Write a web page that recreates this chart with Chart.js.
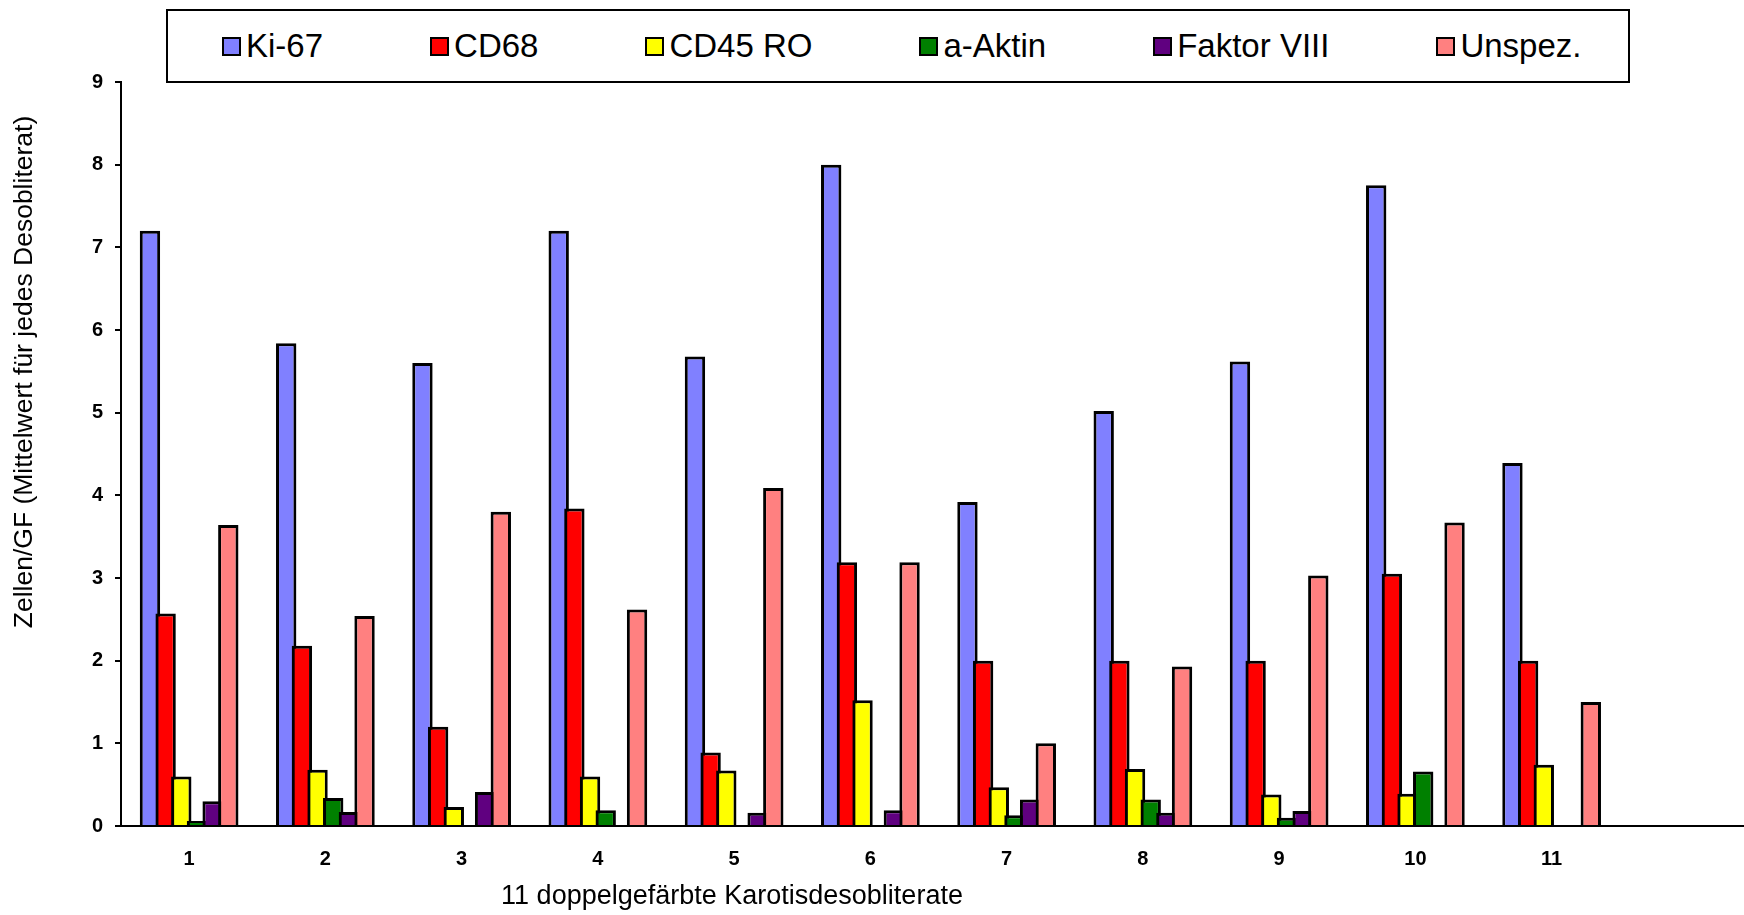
<!DOCTYPE html>
<html>
<head>
<meta charset="utf-8">
<script src="https://cdn.jsdelivr.net/npm/chart.js@4"></script>
<style>
    body { margin: 0; overflow: hidden; background: #fff; }
    #wrap { position: relative; width: 1744px; height: 915px; overflow: hidden; }
    #legend {
        position: absolute; left: 166px; top: 9px; width: 1464px; height: 74px;
        box-sizing: border-box; border: 2px solid #000; background: #fff;
        display: flex; align-items: center; padding-left: 54px;
        font-family: "Liberation Sans", Arial, sans-serif; font-size: 33px; color: #000;
    }
    .item { display: flex; align-items: center; margin-right: 107px; }
    .item:last-child { margin-right: 0; }
    .swatch { width: 19px; height: 19px; box-sizing: border-box; border: 2px solid #000; margin-right: 5px; }
</style>
</head>
<body>
<div id="wrap">
    <!-- axis runs past the right edge in the original, so the canvas is a bit wider than the page -->
    <canvas id="chart" width="1756" height="915"></canvas>
    <div id="legend"></div>
</div>
<script>
const categories = ['1', '2', '3', '4', '5', '6', '7', '8', '9', '10', '11'];
const seriesNames = ['Ki-67', 'CD68', 'CD45 RO', 'a-Aktin', 'Faktor VIII', 'Unspez.'];
const seriesColors = ['#8080FF', '#FF0000', '#FFFF00', '#008000', '#600080', '#FF8080'];

const ki67 = [7.2, 5.84, 5.6, 7.2, 5.68, 8.0, 3.92, 5.02, 5.62, 7.75, 4.39];
const cd68 = [2.57, 2.18, 1.2, 3.84, 0.89, 3.19, 2.0, 2.0, 2.0, 3.05, 2.0];
const cd45ro = [0.6, 0.68, 0.23, 0.6, 0.67, 1.52, 0.47, 0.69, 0.38, 0.39, 0.74];
const aAktin = [0.06, 0.34, 0, 0.19, 0, 0, 0.13, 0.32, 0.1, 0.66, 0];
const faktorVIII = [0.3, 0.17, 0.41, 0, 0.16, 0.19, 0.32, 0.16, 0.18, 0, 0];
const unspez = [3.64, 2.54, 3.8, 2.62, 4.09, 3.19, 1.0, 1.93, 3.03, 3.67, 1.5];

const yTicks = [0, 1, 2, 3, 4, 5, 6, 7, 8, 9];
const xTitle = '11 doppelgefärbte Karotisdesobliterate';
const yTitle = 'Zellen/GF (Mittelwert für jedes Desobliterat)';

const values = [ki67, cd68, cd45ro, aAktin, faktorVIII, unspez];
const FONT = '"Liberation Sans", Arial, sans-serif';
Chart.defaults.font.family = FONT;
Chart.defaults.color = '#000';

// excel draws later series on top, chart.js the other way round
const drawInOrder = {
    id: 'drawInOrder',
    beforeDatasetsDraw(chart) {
        chart.getSortedVisibleDatasetMetas().forEach(meta => meta.controller.draw());
        return false;
    }
};

const axisTitles = {
    id: 'axisTitles',
    afterDraw(chart) {
        const ctx = chart.ctx;
        ctx.save();
        ctx.fillStyle = '#000';
        ctx.textAlign = 'center';
        ctx.textBaseline = 'middle';
        ctx.font = '27px ' + FONT;
        ctx.fillText(xTitle, 732, 897);
        ctx.font = '26.5px ' + FONT;
        ctx.translate(25, 372);
        ctx.rotate(-Math.PI / 2);
        ctx.fillText(yTitle, 0, 0);
        ctx.restore();
    }
};

new Chart(document.getElementById('chart'), {
    type: 'bar',
    data: {
        labels: [...categories, ''],
        datasets: seriesNames.map((name, i) => ({
            label: name,
            data: values[i],
            backgroundColor: seriesColors[i],
            borderColor: '#000',
            borderWidth: 3,
            categoryPercentage: 0.69,
            barPercentage: 1.3
        }))
    },
    options: {
        responsive: false,
        animation: false,
        layout: { padding: { top: 82, right: 0, bottom: 0, left: 0 } },
        plugins: { legend: { display: false }, tooltip: { enabled: false } },
        scales: {
            x: {
                grid: { display: false, drawTicks: false },
                border: { color: '#000', width: 2 },
                ticks: { font: { size: 20, weight: 'bold' }, padding: 21, maxRotation: 0, autoSkip: false },
                afterFit: s => { s.height = 89; }
            },
            y: {
                min: 0,
                max: 9,
                afterBuildTicks: s => { s.ticks = yTicks.map(v => ({ value: v })); },
                grid: { drawOnChartArea: false, drawTicks: true, tickLength: 6, color: '#000', lineWidth: 2 },
                border: { color: '#000', width: 2 },
                ticks: { font: { size: 20, weight: 'bold' }, padding: 12 },
                afterFit: s => { s.width = 121; }
            }
        }
    },
    plugins: [drawInOrder, axisTitles]
});

const legend = document.getElementById('legend');
seriesNames.forEach((name, i) => {
    const item = document.createElement('div');
    item.className = 'item';
    item.innerHTML = `<div class="swatch" style="background:${seriesColors[i]}"></div><span>${name}</span>`;
    legend.appendChild(item);
});
</script>
</body>
</html>
